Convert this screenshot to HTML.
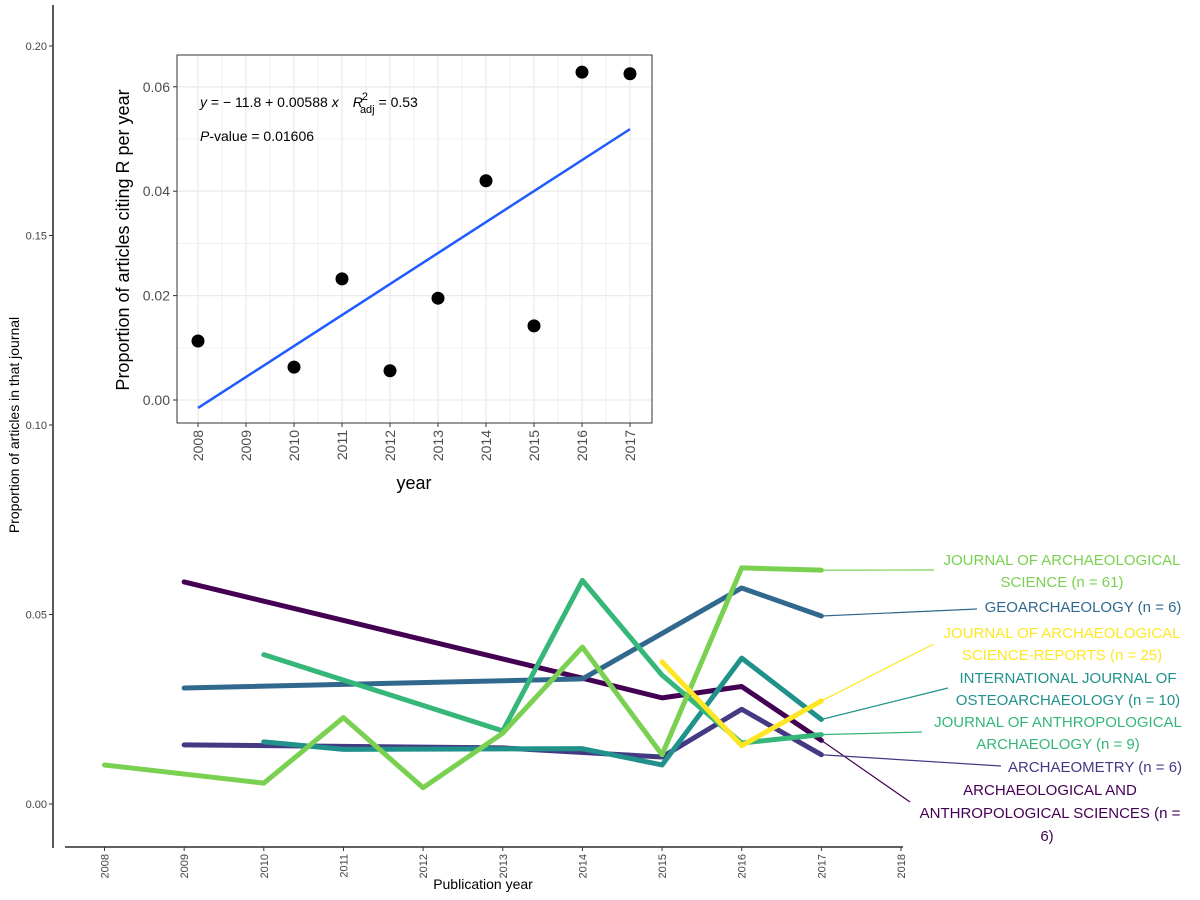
<!DOCTYPE html>
<html><head><meta charset="utf-8"><style>
body{margin:0;background:#fff;}
svg{display:block;font-family:"Liberation Sans",Arial,sans-serif;}
</style></head><body>
<svg id="chart" width="1200" height="900" viewBox="0 0 1200 900">
<g id="main"></g>
<g id="inset"></g>
</svg>
<script>
const years = [2008,2009,2010,2011,2012,2013,2014,2015,2016,2017];
const xTickYears = [2008,2009,2010,2011,2012,2013,2014,2015,2016,2017,2018];
const yTickValues = [0,0.05,0.10,0.15,0.20];
const yTickLabels = ["0.00","0.05","0.10","0.15","0.20"];
const seriesNames = ["JAS","GEO","JASR","IJO","JAA","ARM","AAS"];
const jasYears = [2008,2010,2011,2012,2013,2014,2015,2016,2017];
const jasVals = [0.0103,0.0055,0.0228,0.0043,0.0187,0.0414,0.013,0.0623,0.0617];
const geoYears = [2009,2014,2016,2017];
const geoVals = [0.0306,0.033,0.057,0.0496];
const jasrYears = [2015,2016,2017];
const jasrVals = [0.0375,0.0154,0.0272];
const ijoYears = [2010,2011,2014,2015,2016,2017];
const ijoVals = [0.0164,0.0144,0.0146,0.0103,0.0385,0.0223];
const jaaYears = [2010,2013,2014,2015,2016,2017];
const jaaVals = [0.0394,0.0193,0.059,0.034,0.0161,0.0183];
const armYears = [2009,2013,2015,2016,2017];
const armVals = [0.0156,0.0148,0.0124,0.025,0.013];
const aasYears = [2009,2014,2015,2016,2017];
const aasVals = [0.0586,0.0332,0.028,0.031,0.0168];
const insetYears = [2008,2010,2011,2012,2013,2014,2015,2016,2017];
const insetVals = [0.0113,0.0063,0.0232,0.0056,0.0195,0.042,0.0142,0.0628,0.0625];
const insetYTicks = [0,0.02,0.04,0.06];
const insetYLabels = ["0.00","0.02","0.04","0.06"];

const NS="http://www.w3.org/2000/svg";
function mk(parent,tag,attrs,text){const e=document.createElementNS(NS,tag);for(const k in attrs)e.setAttribute(k,attrs[k]);if(text!==undefined)e.textContent=text;parent.appendChild(e);return e;}
const X=y=>104.5+(y-2008)*79.65;
const Y=v=>804-v*3790;
const main=document.getElementById('main');

// axes
let ax=mk(main,'line',{x1:53,y1:5,x2:53,y2:848,stroke:'#000','stroke-width':1.3});


ax=mk(main,'line',{x1:65,y1:847,x2:903,y2:847,stroke:'#000','stroke-width':1.3});


yTickValues.forEach((v,i)=>{
  const t=mk(main,'line',{x1:49,x2:53,y1:Y(v),y2:Y(v),stroke:'#333'});
  
  
  const l=mk(main,'text',{x:47,y:Y(v)+4,'text-anchor':'end','font-size':11,fill:'#444'},yTickLabels[i]);
  
  
});
xTickYears.forEach(yr=>{
  const t=mk(main,'line',{x1:X(yr),x2:X(yr),y1:847,y2:851,stroke:'#333'});
  
  
  const l=mk(main,'text',{x:0,y:0,'text-anchor':'end','font-size':11,fill:'#444',transform:`translate(${X(yr)+4},854) rotate(-90)`},String(yr));
  
  
});
let tt=mk(main,'text',{x:483,y:889,'text-anchor':'middle','font-size':14},'Publication year');


tt=mk(main,'text',{x:0,y:0,'text-anchor':'middle','font-size':14,transform:'translate(19,425) rotate(-90)'},'Proportion of articles in that journal');



const series=[
 {n:'aas',yrs:aasYears,v:aasVals,c:'#440154'},
 {n:'archaeometry',yrs:armYears,v:armVals,c:'#443983'},
 {n:'geoarchaeology',yrs:geoYears,v:geoVals,c:'#31688e'},
 {n:'ijo',yrs:ijoYears,v:ijoVals,c:'#21918c'},
 {n:'jaa',yrs:jaaYears,v:jaaVals,c:'#35b779'},
 {n:'jas',yrs:jasYears,v:jasVals,c:'#7ad151'},
 {n:'jasr',yrs:jasrYears,v:jasrVals,c:'#fde725'}
];
const labels={
 jas:{lines:[['JOURNAL OF ARCHAEOLOGICAL',1062,565],['SCIENCE (n = 61)',1062,587]],cx:934,cy:570},
 geoarchaeology:{lines:[['GEOARCHAEOLOGY (n = 6)',1083,612]],cx:977,cy:609},
 jasr:{lines:[['JOURNAL OF ARCHAEOLOGICAL',1062,638],['SCIENCE-REPORTS (n = 25)',1062,660]],cx:934,cy:644},
 ijo:{lines:[['INTERNATIONAL JOURNAL OF',1068,683],['OSTEOARCHAEOLOGY (n = 10)',1068,705]],cx:948,cy:688},
 jaa:{lines:[['JOURNAL OF ANTHROPOLOGICAL',1058,727],['ARCHAEOLOGY (n = 9)',1058,749]],cx:922,cy:732},
 archaeometry:{lines:[['ARCHAEOMETRY (n = 6)',1095,772]],cx:1001,cy:766},
 aas:{lines:[['ARCHAEOLOGICAL AND',1050,795],['ANTHROPOLOGICAL SCIENCES (n =',1050,818],['6)',1047,841]],cx:910,cy:802}
};
series.forEach(s=>{
  const last=s.yrs.length-1;
  const lb=labels[s.n];
  const cn=mk(main,'line',{x1:X(s.yrs[last]),y1:Y(s.v[last]),x2:lb.cx,y2:lb.cy,stroke:s.c,'stroke-width':1.2});
  
  
});
series.forEach(s=>{
  const p=mk(main,'polyline',{points:s.yrs.map((y,i)=>X(y)+','+Y(s.v[i])).join(' '),fill:'none',stroke:s.c,'stroke-width':5,'stroke-linejoin':'round','stroke-linecap':'round'});
  
  
});
series.forEach(s=>{
  labels[s.n].lines.forEach(L=>{
    const t=mk(main,'text',{x:L[1],y:L[2],'text-anchor':'middle','font-size':15,fill:s.c},L[0]);
    
    
  });
});

// inset
const inset=document.getElementById('inset');
const IX=y=>198+(y-2008)*48;
const IY=v=>400-v*5220;
let bg=mk(inset,'rect',{x:177,y:55,width:475,height:368,fill:'#fff'});


for(let yr=2007.5;yr<=2017.6;yr+=0.5){
  if(IX(yr)<178||IX(yr)>651)continue;
  const g=mk(inset,'line',{x1:IX(yr),x2:IX(yr),y1:55,y2:423,stroke:'#ebebeb','stroke-width':Number.isInteger(yr)?1.3:0.7});
  
  
}
for(let v=-0.01;v<=0.065;v+=0.01){
  if(IY(v)<56||IY(v)>422)continue;
  const g=mk(inset,'line',{x1:177,x2:652,y1:IY(v),y2:IY(v),stroke:'#ebebeb','stroke-width':Math.round(v*100)%2===0?1.3:0.7});
  
  
}
let bd=mk(inset,'rect',{x:177,y:55,width:475,height:368,fill:'none',stroke:'#333','stroke-width':1});


insetYTicks.forEach((v,i)=>{
  const t=mk(inset,'line',{x1:173,x2:177,y1:IY(v),y2:IY(v),stroke:'#333'});
  
  
  const l=mk(inset,'text',{x:170,y:IY(v)+5,'text-anchor':'end','font-size':14,fill:'#4d4d4d'},insetYLabels[i]);
  
  
});
years.forEach(yr=>{
  const t=mk(inset,'line',{x1:IX(yr),x2:IX(yr),y1:423,y2:427,stroke:'#333'});
  
  
  const l=mk(inset,'text',{x:0,y:0,'text-anchor':'end','font-size':14,fill:'#4d4d4d',transform:`translate(${IX(yr)+5},430) rotate(-90)`},String(yr));
  
  
});
tt=mk(inset,'text',{x:414,y:489,'text-anchor':'middle','font-size':18},'year');


tt=mk(inset,'text',{x:0,y:0,'text-anchor':'middle','font-size':18,transform:'translate(129,240) rotate(-90)'},'Proportion of articles citing R per year');


// regression from data
const n=insetYears.length;
const mx=insetYears.reduce((a,b)=>a+b,0)/n, my=insetVals.reduce((a,b)=>a+b,0)/n;
let sxy=0,sxx=0;insetYears.forEach((x,i)=>{sxy+=(x-mx)*(insetVals[i]-my);sxx+=(x-mx)*(x-mx);});
const slope=sxy/sxx, icp=my-slope*mx;
const x0=insetYears[0],x1=insetYears[n-1];
let fl=mk(inset,'line',{x1:IX(x0),y1:IY(icp+slope*x0),x2:IX(x1),y2:IY(icp+slope*x1),stroke:'#1f5bff','stroke-width':2.5});


insetYears.forEach((yr,i)=>{
  const c=mk(inset,'circle',{cx:IX(yr),cy:IY(insetVals[i]),r:6.5,fill:'#000'});
  
  
});
const eq=mk(inset,'text',{x:200,y:107,'font-size':14});


eq.innerHTML='<tspan font-style="italic">y</tspan> = − 11.8 + 0.00588 <tspan font-style="italic">x</tspan><tspan dx="14" font-style="italic">R</tspan><tspan dx="-1" dy="-7" font-size="11">2</tspan><tspan dx="-8" dy="13" font-size="11">adj</tspan><tspan dy="-6"> = 0.53</tspan>';
const pv=mk(inset,'text',{x:200,y:141,'font-size':14});


pv.innerHTML='<tspan font-style="italic">P</tspan>-value = 0.01606';
</script>
</body></html>
